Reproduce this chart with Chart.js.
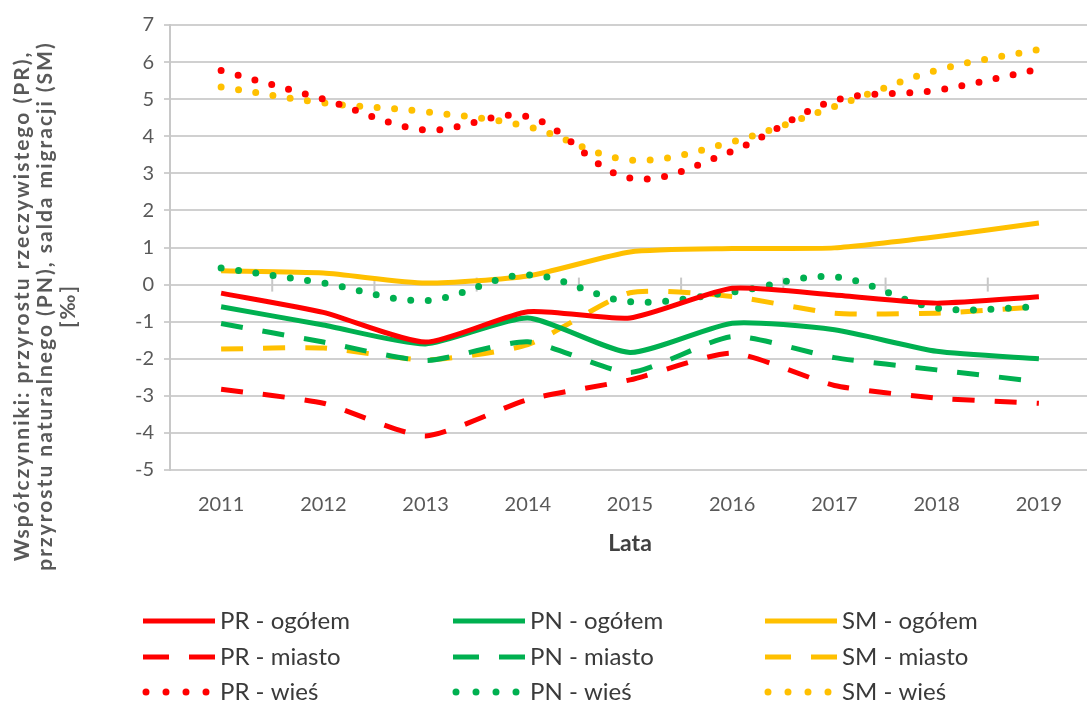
<!DOCTYPE html>
<html>
<head>
<meta charset="utf-8">
<script src="https://cdn.jsdelivr.net/npm/chart.js@4"></script>
<style>
  html, body { margin: 0; padding: 0; background: #fff; overflow: hidden; }
  #wrap { width: 1090px; height: 708px; }
</style>
</head>
<body>
<div id="wrap"><canvas id="wykres" width="1090" height="708"></canvas></div>
<script>
const lata = ['2011', '2012', '2013', '2014', '2015', '2016', '2017', '2018', '2019'];

const prOgolem = [-0.23, -0.75, -1.55, -0.73, -0.9, -0.1, -0.28, -0.5, -0.33];
const prMiasto = [-2.82, -3.2, -4.08, -3.1, -2.57, -1.85, -2.72, -3.06, -3.2];
const prWies   = [5.77, 5.0, 4.17, 4.53, 2.87, 3.6, 4.96, 5.24, 5.81];

const pnOgolem = [-0.6, -1.09, -1.6, -0.9, -1.83, -1.04, -1.22, -1.8, -2.0];
const pnMiasto = [-1.05, -1.55, -2.05, -1.54, -2.37, -1.4, -1.97, -2.3, -2.62];
const pnWies   = [0.45, 0.04, -0.43, 0.26, -0.46, -0.2, 0.21, -0.63, -0.6];

const smOgolem = [0.37, 0.31, 0.04, 0.23, 0.88, 0.97, 0.99, 1.29, 1.66];
const smMiasto = [-1.74, -1.71, -2.03, -1.62, -0.22, -0.32, -0.77, -0.77, -0.6];
const smWies   = [5.33, 4.9, 4.66, 4.26, 3.36, 3.85, 4.8, 5.78, 6.34];

const opisOsiY = [
    'Współczynniki: przyrostu rzeczywistego (PR),',
    'przyrostu naturalnego (PN), salda migracji (SM)',
    '[‰]'
];

const CZERWONY = '#ff0000';
const ZIELONY = '#00b050';
const ZOLTY = '#ffc000';

function seria(nazwa, dane, kolor, typ) {
    const ds = {
        label: nazwa,
        data: dane,
        borderColor: kolor,
        backgroundColor: kolor,
        borderWidth: 5,
        pointRadius: 0,
        pointHoverRadius: 0,
        fill: false,
        tension: 0.2,
        typLinii: typ
    };
    if (typ === 'kreski') {
        ds.borderDash = [22, 20];
    } else if (typ === 'kropki') {
        ds.borderDash = [0, 17.5];
        ds.borderCapStyle = 'round';
        ds.borderWidth = 7;
        ds.tension = 0.35;
    }
    return ds;
}

// legenda w trzech kolumnach (PR / PN / SM)
const legenda3 = {
    id: 'legenda3',
    afterDraw(chart) {
        const ctx = chart.ctx;
        const kolX = [143, 453, 765];
        const wierszY = [621, 657, 692];
        ctx.save();
        chart.data.datasets.forEach((ds, i) => {
            const x0 = kolX[Math.floor(i / 3)];
            const y = wierszY[i % 3];
            ctx.strokeStyle = ds.borderColor;
            ctx.lineWidth = ds.borderWidth;
            if (ds.typLinii === 'kreski') {
                ctx.setLineDash([26, 20]);
                ctx.lineCap = 'butt';
            } else if (ds.typLinii === 'kropki') {
                ctx.setLineDash([0, 20]);
                ctx.lineCap = 'round';
            } else {
                ctx.setLineDash([]);
                ctx.lineCap = 'butt';
            }
            ctx.beginPath();
            if (ds.typLinii === 'kropki') {
                ctx.moveTo(x0 + 3, y);
                ctx.lineTo(x0 + 72, y);
            } else {
                ctx.moveTo(x0, y);
                ctx.lineTo(x0 + 72, y);
            }
            ctx.stroke();
            ctx.setLineDash([]);
            ctx.fillStyle = '#3a3a3a';
            ctx.font = '24px Lato';
            ctx.textAlign = 'left';
            ctx.textBaseline = 'middle';
            ctx.fillText(ds.label, x0 + 77, y);
        });
        ctx.restore();
    }
};

const tytulOsiY = {
    id: 'tytulOsiY',
    afterDraw(chart) {
        const ctx = chart.ctx;
        const xs = [22, 45, 68];
        ctx.save();
        ctx.fillStyle = '#595959';
        ctx.font = 'bold 21px Lato';
        if ('letterSpacing' in ctx) ctx.letterSpacing = '2px';
        ctx.textAlign = 'center';
        ctx.textBaseline = 'middle';
        opisOsiY.forEach((t, i) => {
            ctx.save();
            ctx.translate(xs[i], 306);
            ctx.rotate(-Math.PI / 2);
            ctx.fillText(t, 0, 0);
            ctx.restore();
        });
        ctx.restore();
    }
};

// kreski osi X na linii zera, pomiedzy latami
const kreskiZero = {
    id: 'kreskiZero',
    beforeDatasetsDraw(chart) {
        const ctx = chart.ctx;
        const sx = chart.scales.x;
        const y0 = chart.scales.y.getPixelForValue(0);
        ctx.save();
        ctx.strokeStyle = '#c8c8c8';
        ctx.lineWidth = 2;
        for (let i = 0; i < lata.length - 1; i++) {
            const px = (sx.getPixelForValue(i) + sx.getPixelForValue(i + 1)) / 2;
            ctx.beginPath();
            ctx.moveTo(px, y0 - 7);
            ctx.lineTo(px, y0 + 7);
            ctx.stroke();
        }
        ctx.restore();
    }
};

Chart.defaults.font.family = 'Lato';

const ctx = document.getElementById('wykres').getContext('2d');
new Chart(ctx, {
    type: 'line',
    data: {
        labels: lata,
        datasets: [
            seria('PR - ogółem', prOgolem, CZERWONY, 'ciagla'),
            seria('PR - miasto', prMiasto, CZERWONY, 'kreski'),
            seria('PR - wieś', prWies, CZERWONY, 'kropki'),
            seria('PN - ogółem', pnOgolem, ZIELONY, 'ciagla'),
            seria('PN - miasto', pnMiasto, ZIELONY, 'kreski'),
            seria('PN - wieś', pnWies, ZIELONY, 'kropki'),
            seria('SM - ogółem', smOgolem, ZOLTY, 'ciagla'),
            seria('SM - miasto', smMiasto, ZOLTY, 'kreski'),
            seria('SM - wieś', smWies, ZOLTY, 'kropki')
        ]
    },
    options: {
        responsive: false,
        animation: false,
        layout: { padding: { top: 25, right: 0, bottom: 148, left: 0 } },
        plugins: {
            legend: { display: false },
            tooltip: { enabled: false }
        },
        scales: {
            y: {
                min: -5,
                max: 7,
                ticks: { stepSize: 1, color: '#595959', font: { size: 20 }, padding: 10 },
                grid: { color: '#d0d0d0', lineWidth: 2, tickLength: 6 },
                border: { color: '#c8c8c8', width: 2 },
                afterFit(s) { s.width = 170; }
            },
            x: {
                offset: true,
                ticks: { color: '#595959', font: { size: 20 }, padding: 15, maxRotation: 0 },
                grid: { display: false, offset: true },
                border: { display: false },
                title: {
                    display: true,
                    text: 'Lata',
                    color: '#404040',
                    font: { size: 23, weight: 'bold' },
                    padding: { top: 0, bottom: 3 }
                },
                afterFit(s) { s.height = 90; }
            }
        }
    },
    plugins: [kreskiZero, tytulOsiY, legenda3]
});
</script>
</body>
</html>
